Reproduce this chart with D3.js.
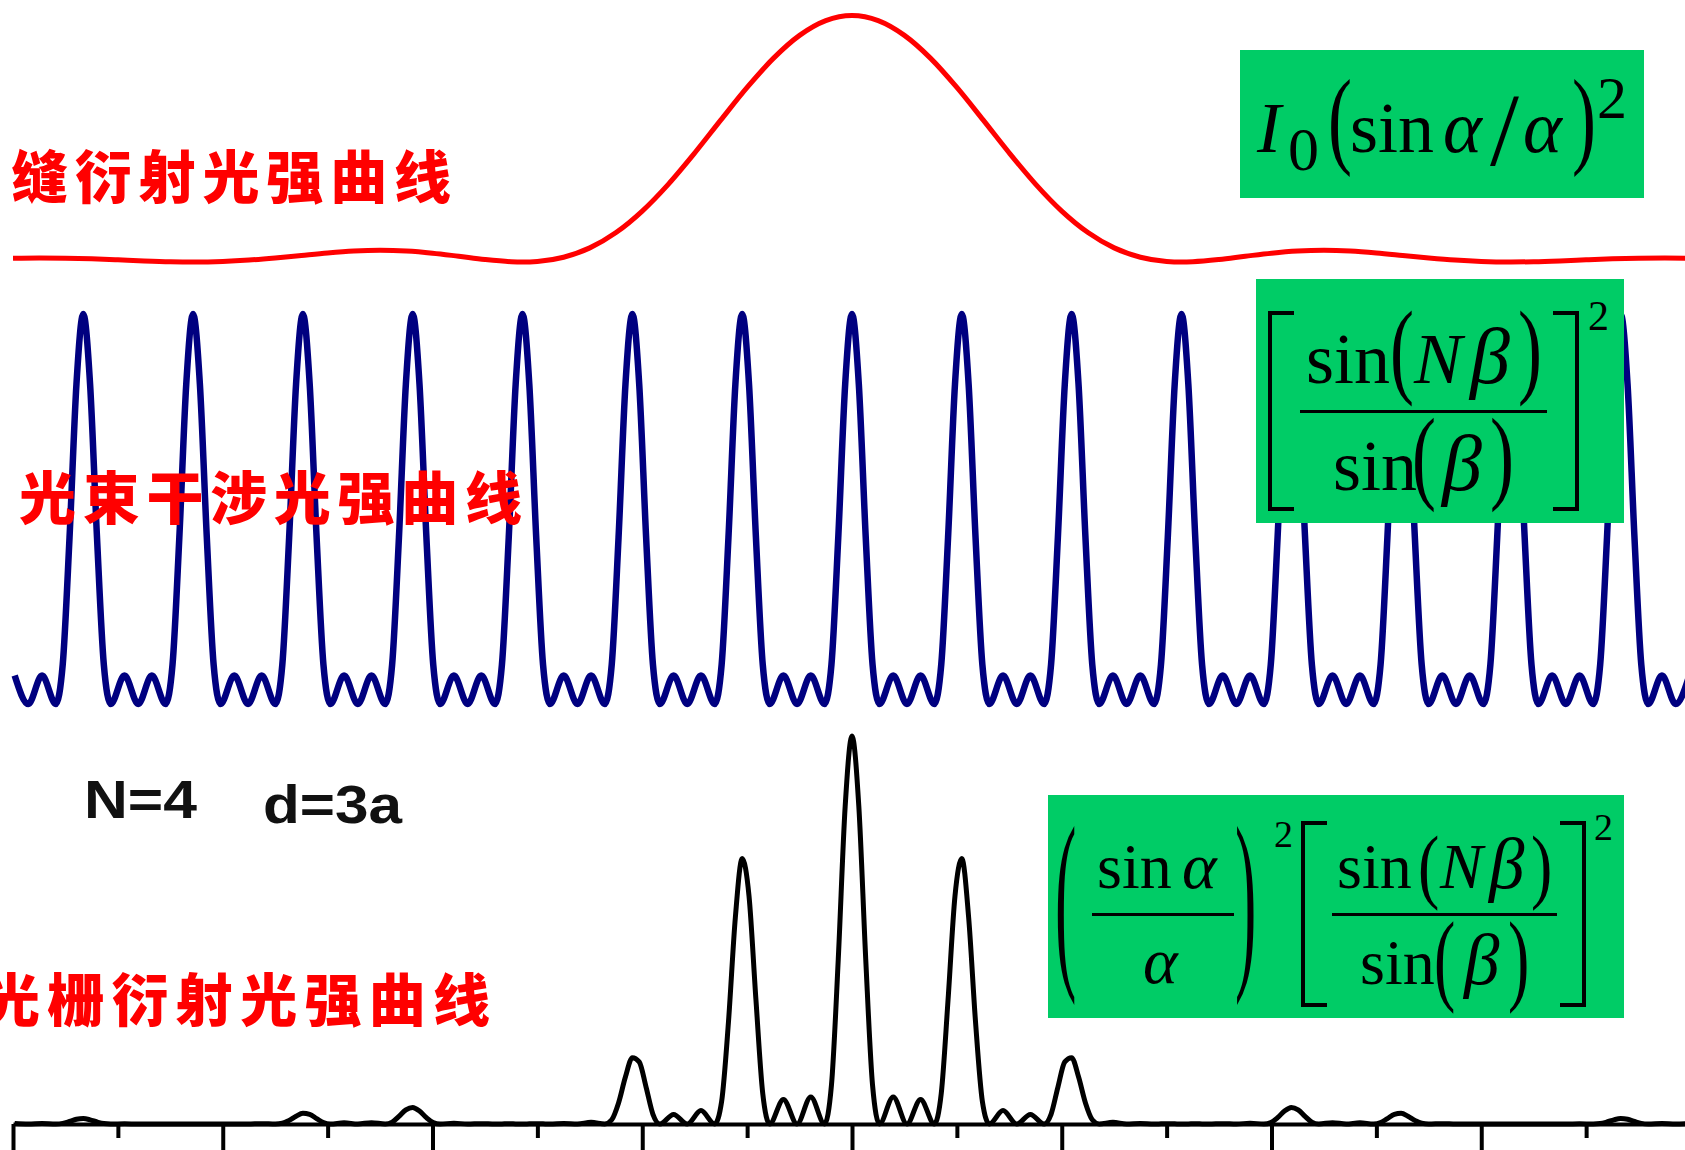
<!DOCTYPE html>
<html><head><meta charset="utf-8">
<script src="https://cdn.jsdelivr.net/npm/d3@7"></script>
<style>html,body{margin:0;padding:0;background:#fff;overflow:hidden}</style>
</head><body>
<svg id="c" width="1685" height="1150" xmlns="http://www.w3.org/2000/svg"></svg>
<script>
// ---------- data (alpha in radians, intensities normalised to 1) ----------
const alphaGrid = [
 -7.984,-7.854,-7.723,-7.592,-7.526,-7.461,-7.395,
 -7.330,-7.265,-7.199,-7.134,-7.068,-6.937,-6.806,-6.676,-6.545,-6.479,-6.414,-6.348,
 -6.283,-6.218,-6.152,-6.087,-6.021,-5.890,-5.759,-5.629,-5.498,-5.432,-5.367,-5.301,
 -5.236,-5.171,-5.105,-5.040,-4.974,-4.843,-4.712,-4.582,-4.451,-4.385,-4.320,-4.254,
 -4.189,-4.124,-4.058,-3.993,-3.927,-3.796,-3.665,-3.535,-3.404,-3.338,-3.273,-3.207,
 -3.142,-3.077,-3.011,-2.946,-2.880,-2.749,-2.618,-2.488,-2.357,-2.291,-2.226,-2.160,
 -2.094,-2.029,-1.963,-1.898,-1.832,-1.701,-1.571,-1.440,-1.309,-1.243,-1.178,-1.112,
 -1.047,-0.982,-0.916,-0.851,-0.785,-0.654,-0.524,-0.393,-0.262,-0.196,-0.131,-0.065,
  0.000, 0.065, 0.131, 0.196, 0.262, 0.393, 0.524, 0.654, 0.785, 0.851, 0.916, 0.982,
  1.047, 1.112, 1.178, 1.243, 1.309, 1.440, 1.571, 1.701, 1.832, 1.898, 1.963, 2.029,
  2.094, 2.160, 2.226, 2.291, 2.357, 2.488, 2.618, 2.749, 2.880, 2.946, 3.011, 3.077,
  3.142, 3.207, 3.273, 3.338, 3.404, 3.535, 3.665, 3.796, 3.927, 3.993, 4.058, 4.124,
  4.189, 4.254, 4.320, 4.385, 4.451, 4.582, 4.712, 4.843, 4.974, 5.040, 5.105, 5.171,
  5.236, 5.301, 5.367, 5.432, 5.498, 5.629, 5.759, 5.890, 6.021, 6.087, 6.152, 6.218,
  6.283, 6.348, 6.414, 6.479, 6.545, 6.676, 6.806, 6.937, 7.068, 7.134, 7.199, 7.265,
  7.330, 7.395, 7.461, 7.526, 7.592, 7.723, 7.854, 7.984
];
// multi-beam interference (blue)
const interference = [
 .073,0,.073,0,.101,.427,.82,
 1,.82,.427,.101,0,.073,0,.073,0,.101,.427,.82,
 1,.82,.427,.101,0,.073,0,.073,0,.101,.427,.82,
 1,.82,.427,.101,0,.073,0,.073,0,.101,.427,.82,
 1,.82,.427,.101,0,.073,0,.073,0,.101,.427,.82,
 1,.82,.427,.101,0,.073,0,.073,0,.101,.427,.82,
 1,.82,.427,.101,0,.073,0,.073,0,.101,.427,.82,
 1,.82,.427,.101,0,.073,0,.073,0,.101,.427,.82,
 1,.82,.427,.101,0,.073,0,.073,0,.101,.427,.82,
 1,.82,.427,.101,0,.073,0,.073,0,.101,.427,.82,
 1,.82,.427,.101,0,.073,0,.073,0,.101,.427,.82,
 1,.82,.427,.101,0,.073,0,.073,0,.101,.427,.82,
 1,.82,.427,.101,0,.073,0,.073,0,.101,.427,.82,
 1,.82,.427,.101,0,.073,0,.073,0,.101,.427,.82,
 1,.82,.427,.101,0,.073,0,.073,0,.101,.427,.82,
 1,.82,.427,.101,0,.073,0,.073
];
// grating diffraction (black)
const grating = [
 .0011,0,.0012,0,.0016,.0065,.0121,
 .0140,.0107,.0052,.0011,0,.0006,0,.0002,0,.0001,.0002,.0001,
 0,.0001,.0002,.0001,0,.0003,0,.0009,0,.0019,.0094,.0202,
 .0274,.0247,.0140,.0036,0,.0031,0,.0034,0,.0047,.0196,.0364,
 .0427,.0334,.0164,.0036,0,.0019,0,.0009,0,.0003,.0007,.0003,
 0,.0004,.0008,.0004,0,.0014,0,.0044,0,.0109,.0543,.1217,
 .1710,.1602,.0946,.0251,0,.0248,0,.0346,0,.0586,.2625,.5331,
 .6841,.5878,.3204,.0788,0,.0632,0,.0694,0,.0997,.4246,.8189,
 1,.8189,.4246,.0997,0,.0694,0,.0632,0,.0788,.3204,.5878,
 .6841,.5331,.2625,.0586,0,.0346,0,.0248,0,.0251,.0946,.1602,
 .1710,.1217,.0543,.0109,0,.0044,0,.0014,0,.0004,.0008,.0004,
 0,.0003,.0007,.0003,0,.0009,0,.0019,0,.0036,.0164,.0334,
 .0427,.0364,.0196,.0047,0,.0034,0,.0031,0,.0036,.0140,.0247,
 .0274,.0202,.0094,.0019,0,.0009,0,.0003,0,.0001,.0002,.0001,
 0,.0001,.0002,.0001,0,.0002,0,.0006,0,.0011,.0052,.0107,
 .0140,.0121,.0065,.0016,0,.0012,0,.0011
];
// single-slit diffraction (red)
const slitAlpha = [-8,-7.75,-7.5,-7.25,-7,-6.75,-6.5,-6.283,-6,-5.75,-5.5,-5.25,-5,-4.75,-4.5,-4.25,-4,-3.75,-3.5,-3.25,-3.142,-3,-2.75,-2.5,-2.25,-2,-1.75,-1.5,-1.25,-1,-0.75,-0.5,-0.25,
 0,0.25,0.5,0.75,1,1.25,1.5,1.75,2,2.25,2.5,2.75,3,3.142,3.25,3.5,3.75,4,4.25,4.5,4.75,5,5.25,5.5,5.75,6,6.283,6.5,6.75,7,7.25,7.5,7.75,8];
const slitIntensity = [.0153,.0165,.0156,.0129,.0088,.0044,.0011,0,.0022,.0078,.0165,.0268,.0368,.0443,.0472,.0443,.0358,.0232,.0100,.0011,0,.0022,.0193,.0573,.1196,.2067,.3162,.4422,.5764,.7081,.8261,.9194,.9793,
 1,.9793,.9194,.8261,.7081,.5764,.4422,.3162,.2067,.1196,.0573,.0193,.0022,0,.0011,.0100,.0232,.0358,.0443,.0472,.0443,.0368,.0268,.0165,.0078,.0022,0,.0011,.0044,.0088,.0129,.0156,.0165,.0153];
const majorTicks = [-8,-6,-4,-2,0,2,4,6];
const minorTicks = [-7,-5,-3,-1,1,3,5,7];
const curveLabels = ["缝衍射光强曲线","光束干涉光强曲线","光栅衍射光强曲线"];
const paramLabels = ["N=4","d=3a"];

// ---------- drawing ----------
const svg = d3.select('#c');
const x = d3.scaleLinear().domain([-8, 8]).range([13, 1691]);
const yRed = d3.scaleLinear().domain([0, 1]).range([262, 15.5]);
const yBlue = d3.scaleLinear().domain([0, 1]).range([704, 314]);
const yBlack = d3.scaleLinear().domain([0, 1]).range([1124, 736]);

const redData = slitAlpha.map((a, i) => ({a, v: slitIntensity[i]}));
const blueData = alphaGrid.map((a, i) => ({a, v: interference[i]}));
const blackData = alphaGrid.map((a, i) => ({a, v: grating[i]}));

function lineFor(ys) {
  return d3.line().x(d => x(d.a)).y(d => ys(d.v)).curve(d3.curveMonotoneX);
}
svg.append('path').datum(redData).attr('d', lineFor(yRed))
  .attr('fill', 'none').attr('stroke', '#ff0000').attr('stroke-width', 5).attr('stroke-linejoin', 'round');
svg.append('path').datum(blueData).attr('d', lineFor(yBlue))
  .attr('fill', 'none').attr('stroke', '#000080').attr('stroke-width', 6.5).attr('stroke-linejoin', 'round');

// axis
const axMajor = svg.append('g').attr('transform', 'translate(0,1124)')
  .call(d3.axisBottom(x).tickValues(majorTicks).tickSize(34).tickSizeOuter(0).tickFormat(''));
const axMinor = svg.append('g').attr('transform', 'translate(0,1124)')
  .call(d3.axisBottom(x).tickValues(minorTicks).tickSize(14).tickSizeOuter(0).tickFormat(''));
axMinor.select('.domain').remove();
svg.selectAll('.domain, .tick line').attr('stroke', '#000').attr('stroke-width', 4);

svg.append('path').datum(blackData).attr('d', lineFor(yBlack))
  .attr('fill', 'none').attr('stroke', '#000').attr('stroke-width', 5).attr('stroke-linejoin', 'round');

// labels
const cjk = '"Noto Sans CJK SC", "Noto Sans CJK JP", sans-serif';
const labelPos = [{x: 11, y: 173, len: 440}, {x: 19, y: 494, len: 503}, {x: -17, y: 996, len: 507}];
curveLabels.forEach((t, i) => {
  svg.append('text').attr('x', labelPos[i].x).attr('y', labelPos[i].y)
    .attr('dominant-baseline', 'central')
    .attr('font-family', cjk).attr('font-weight', 900).attr('font-size', 57)
    .attr('fill', '#ff0000')
    .attr('textLength', labelPos[i].len).attr('lengthAdjust', 'spacing')
    .text(t);
});
const paramPos = [{x: 84, y: 818, len: 113}, {x: 263, y: 823, len: 139}];
paramLabels.forEach((t, i) => {
  svg.append('text').attr('x', paramPos[i].x).attr('y', paramPos[i].y)
    .attr('font-family', '"Liberation Sans", Arial, sans-serif').attr('font-weight', 'bold')
    .attr('font-size', 53).attr('fill', '#111')
    .attr('textLength', paramPos[i].len).attr('lengthAdjust', 'spacingAndGlyphs')
    .text(t);
});

// formulas
const serif = '"Liberation Serif", "Times New Roman", serif';
const green = '#00cc66';
function box(x0, y0, w, h) {
  svg.append('rect').attr('x', x0).attr('y', y0).attr('width', w).attr('height', h).attr('fill', green);
  return svg.append('g').attr('font-family', serif).attr('fill', '#000');
}
function t(g, str, x0, y0, size, italic) {
  g.append('text').attr('x', x0).attr('y', y0).attr('font-size', size)
    .attr('font-style', italic ? 'italic' : 'normal').text(str);
}
function paren(g, ch, x0, top, bottom, F) {
  const sy = (bottom - top) / (0.853 * F);
  const base = bottom - 0.177 * F * sy;
  g.append('text').attr('transform', `translate(${x0},${base}) scale(1,${sy})`)
    .attr('font-size', F).text(ch);
}
function bracket(g, left, x0, x1, top, bottom) {
  const d = left ? `M${x1},${top}H${x0}V${bottom}H${x1}` : `M${x0},${top}H${x1}V${bottom}H${x0}`;
  g.append('path').attr('d', d).attr('fill', 'none').attr('stroke', '#000').attr('stroke-width', 4);
}
function bar(g, x0, x1, y0) {
  g.append('line').attr('x1', x0).attr('x2', x1).attr('y1', y0).attr('y2', y0)
    .attr('stroke', '#000').attr('stroke-width', 3);
}

// Box 1: I0 (sin a / a)^2
let g = box(1240, 50, 404, 148);
t(g, 'I', 1257, 152, 72, true);
t(g, '0', 1288, 170, 62, false);
paren(g, '(', 1328, 80, 173, 72);
t(g, 'sin', 1350, 152, 72, false);
t(g, 'α', 1443, 152, 74, true);
t(g, '/', 1490, 165, 104, false);
t(g, 'α', 1523, 152, 74, true);
paren(g, ')', 1572, 80, 173, 72);
t(g, '2', 1597, 118, 60, false);

// Box 2: [sin(Nb)/sin(b)]^2
g = box(1256, 279, 368, 244);
bracket(g, true, 1270, 1294, 313, 509);
bracket(g, false, 1553, 1577, 313, 509);
t(g, '2', 1588, 330, 42, false);
t(g, 'sin', 1306, 383, 72, false);
paren(g, '(', 1390, 313, 403, 72);
t(g, 'N', 1414, 383, 72, true);
t(g, 'β', 1470, 383, 80, true);
paren(g, ')', 1518, 313, 403, 72);
bar(g, 1300, 1547, 411.5);
t(g, 'sin', 1333, 490, 72, false);
paren(g, '(', 1412, 420, 508, 72);
t(g, 'β', 1442, 490, 80, true);
paren(g, ')', 1490, 420, 508, 72);

// Box 3: (sin a / a)^2 [sin(Nb)/sin(b)]^2
g = box(1048, 795, 576, 223);
paren(g, '(', 1055, 830, 998, 64);
t(g, 'sin', 1097, 888, 64, false);
t(g, 'α', 1182, 888, 66, true);
bar(g, 1092, 1234, 914.5);
t(g, 'α', 1143, 983, 66, true);
paren(g, ')', 1235, 830, 998, 64);
t(g, '2', 1274, 847, 38, false);
bracket(g, true, 1303, 1327, 823, 1005);
t(g, 'sin', 1337, 888, 64, false);
paren(g, '(', 1418, 838, 908, 64);
t(g, 'N', 1440, 888, 64, true);
t(g, 'β', 1489, 888, 71, true);
paren(g, ')', 1531, 838, 908, 64);
bar(g, 1332, 1557, 914.5);
t(g, 'sin', 1360, 984, 64, false);
paren(g, '(', 1434, 923, 1010, 64);
t(g, 'β', 1464, 984, 71, true);
paren(g, ')', 1508, 923, 1010, 64);
bracket(g, false, 1560, 1584, 823, 1005);
t(g, '2', 1594, 840, 38, false);
</script>
</body></html>
